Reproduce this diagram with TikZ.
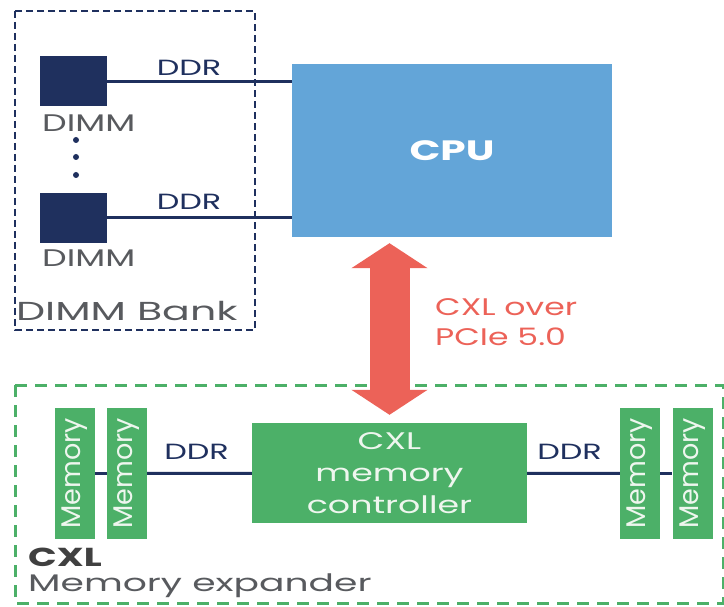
\documentclass[tikz,border=0pt]{standalone}
\usepackage{fontspec}
\setmainfont{Poppins}
\usepackage{graphicx}
\usetikzlibrary{arrows.meta}

\definecolor{dimmnavy}{RGB}{31,48,94}
\definecolor{cpublue}{RGB}{99,165,216}
\definecolor{ctrlgreen}{RGB}{76,176,104}
\definecolor{linkred}{RGB}{236,98,88}
\definecolor{labelgray}{RGB}{88,90,94}
\definecolor{softwhite}{RGB}{238,246,238}

\newcommand{\wide}[1]{\scalebox{1.45}[1]{#1}}
\newcommand{\fsz}[2]{\fontsize{#1}{#2}\selectfont}

\begin{document}
\begin{tikzpicture}[x=1pt, y=-1pt,
    dimmbox/.style={fill=dimmnavy, minimum width=67pt, minimum height=50pt, inner sep=0pt},
    membox/.style={fill=ctrlgreen, rotate=90, minimum width=131pt, minimum height=40pt, inner sep=0pt,
        text=softwhite, font=\fsz{27}{27}},
    ddrlabel/.style={text=dimmnavy, font=\fsz{22}{22}, inner sep=0pt},
    graylabel/.style={text=labelgray, font=\fsz{24}{24}, inner sep=0pt, anchor=west},
    bus/.style={draw=dimmnavy, line width=3pt},
    bigarrow/.style={linkred, line width=40pt, {Triangle[width=75pt,length=25pt]}-{Triangle[width=75pt,length=25pt]}}]
\useasboundingbox (0,0) rectangle (724,607);

% DIMM Bank
\draw[dimmnavy, line width=2pt, dash pattern=on 7pt off 4pt] (15,11) rectangle (255,330);
\node[dimmbox] (dimma) at (73.5,81.5) {};
\node[dimmbox] (dimmb) at (73.5,218) {};
\node[graylabel] (dimmalabel) at (42,123) {\wide{DIMM}};
\node[graylabel] (dimmblabel) at (42,258) {\wide{DIMM}};
\foreach \y in {140,157,175}
    \fill[dimmnavy] (76,\y) circle (3pt);
\node[graylabel, font=\fsz{26}{26}] (banklabel) at (16,311) {\scalebox{1.58}[1]{DIMM Bank}};

% CPU
\node[fill=cpublue, minimum width=320pt, minimum height=173pt, text=white,
    font=\fsz{28}{28}\bfseries] (cpu) at (452,150.5) {\wide{CPU}};
\draw[bus] (dimma.east) -- (dimma.east -| cpu.west);
\draw[bus] (dimmb.east) -- (dimmb.east -| cpu.west);
\node[ddrlabel] (ddra) at (189,68) {\wide{DDR}};
\node[ddrlabel] (ddrb) at (189,202) {\wide{DDR}};

% CXL memory expander
\draw[ctrlgreen, line width=3pt, dash pattern=on 12pt off 8pt] (15,385) rectangle (723,603);
\node[fill=ctrlgreen, minimum width=275pt, minimum height=100pt, align=center,
    text=softwhite, font=\fsz{24}{32}] (ctrl) at (389.5,473)
    {\wide{CXL}\\\wide{memory}\\\wide{controller}};
\node[membox] (mema) at (75,473.5) {Memory};
\node[membox] (memb) at (127,473.5) {Memory};
\node[membox] (memc) at (640,473.5) {Memory};
\node[membox] (memd) at (692.5,473.5) {Memory};
\draw[bus] (mema) -- (memb);
\draw[bus] (memb) -- (ctrl);
\draw[bus] (ctrl) -- (memc);
\draw[bus] (memc) -- (memd);
\node[ddrlabel] (ddrc) at (196.5,452) {\wide{DDR}};
\node[ddrlabel] (ddrd) at (569.5,452) {\wide{DDR}};
\node[graylabel, text=black!75, font=\fsz{26}{26}\bfseries] (cxltitle) at (28,557) {\wide{CXL}};
\node[graylabel] (exptitle) at (28,586) {\scalebox{1.57}[1]{Memory expander}};

% CXL link
\draw[bigarrow, shorten <=6pt, shorten >=8pt] (ctrl.north |- cpu.south) -- (ctrl.north);
\node[text=linkred, font=\fsz{24}{30}, align=left, anchor=west, inner sep=0pt] (linklabel)
    at (435,322) {\scalebox{1.38}[1]{CXL over}\\\scalebox{1.38}[1]{PCIe 5.0}};
\end{tikzpicture}
\end{document}
